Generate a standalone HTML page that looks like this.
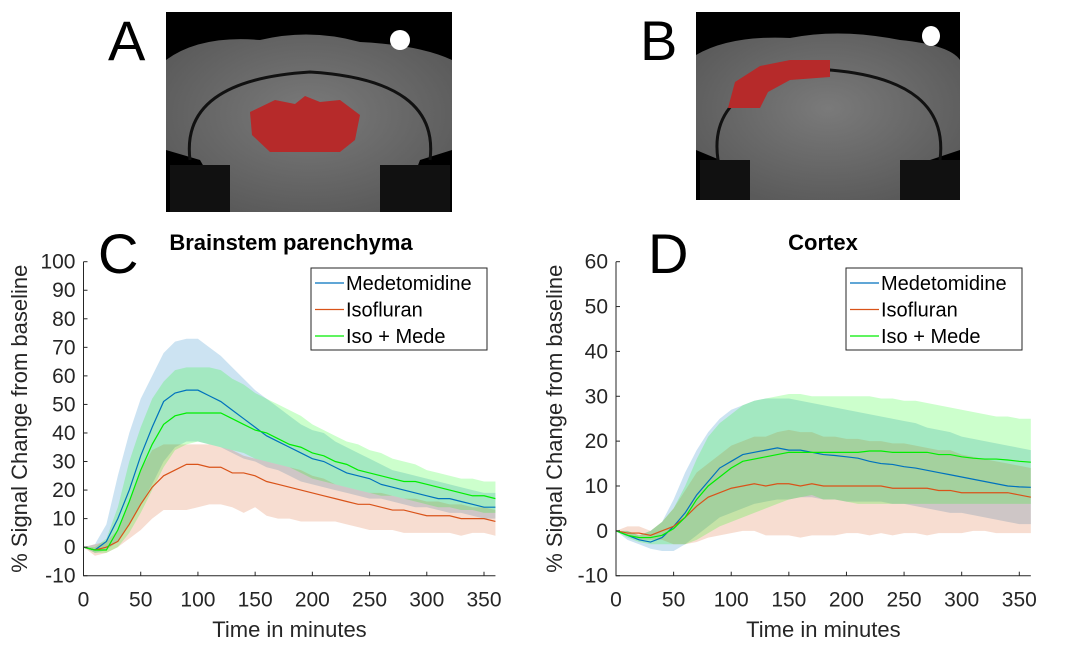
<!DOCTYPE html>
<html><head><meta charset="utf-8"><style>
body{margin:0;background:#fff;width:1080px;height:650px;overflow:hidden;font-family:"Liberation Sans",sans-serif}
svg text{font-family:"Liberation Sans",sans-serif}
</style></head><body>
<svg id="fig" width="1080" height="650">
<defs>
<radialGradient id="brain" cx="50%" cy="45%" r="60%"><stop offset="0" stop-color="#7a7a7a"/><stop offset="1" stop-color="#5a5a5a"/></radialGradient>
</defs>
<g>
<rect x="166" y="12" width="286" height="200" fill="#000"/>
<path d="M166 60 Q200 35 260 40 Q310 28 360 42 Q420 45 452 60 L452 150 L420 160 L400 212 L230 212 L200 160 L166 150 Z" fill="url(#brain)"/>
<path d="M190 160 Q180 80 310 72 Q440 80 430 160" fill="none" stroke="#111" stroke-width="3"/>
<ellipse cx="400" cy="40" rx="10" ry="10" fill="#fff"/>
<rect x="170" y="165" width="60" height="47" fill="#111"/><rect x="380" y="165" width="70" height="47" fill="#111"/>
<path d="M250 112 L275 100 L295 104 L305 96 L320 102 L340 100 L360 115 L355 140 L340 152 L270 152 L252 135 Z" fill="#b62a2a"/>
</g>
<text x="108" y="60" font-size="56">A</text>
<g>
<rect x="696" y="12" width="264" height="188" fill="#000"/>
<path d="M696 55 Q730 35 790 38 Q840 28 900 40 Q950 45 960 60 L960 150 L930 160 L910 200 L750 200 L720 160 L696 150 Z" fill="url(#brain)"/>
<path d="M718 160 Q706 80 830 70 Q950 80 940 160" fill="none" stroke="#111" stroke-width="3"/>
<ellipse cx="931" cy="36" rx="9" ry="10" fill="#fff"/>
<rect x="700" y="160" width="50" height="40" fill="#111"/><rect x="900" y="160" width="60" height="40" fill="#111"/>
<path d="M728 108 L735 82 L760 66 L790 60 L830 60 L830 77 L790 80 L768 92 L760 108 Z" fill="#b62a2a"/>
</g>
<text x="640" y="60" font-size="56">B</text>
<g id="chartC"></g>
<g id="chartD"></g>
</svg>
<script>
const xs=[0,10,20,30,40,50,60,70,80,90,100,110,120,130,140,150,160,170,180,190,200,210,220,230,240,250,260,270,280,290,300,310,320,330,340,350,360];
const cMed=[0,-1,2,10,20,32,42,51,54,55,55,53,51,48,45,42,39,37,35,33,31,30,28,26,25,24,22,21,20,19,18,17,17,16,15,14,14];
const cMedHi=[0,1,8,25,40,52,60,68,72,73,73,70,67,63,59,55,52,49,46,43,41,40,37,35,33,31,29,27,26,25,24,23,22,21,20,19,19];
const cMedLo=[0,-2,-1,2,8,15,22,30,35,37,37,36,35,33,31,30,28,27,25,23,22,21,20,19,18,17,17,16,15,14,14,13,12,12,11,10,10];
const cIso=[0,-1,0,2,8,15,21,25,27,29,29,28,28,26,26,25,23,22,21,20,19,18,17,16,15,15,14,13,13,12,11,11,11,10,10,10,9];
const cIsoHi=[0,1,2,6,16,27,34,36,36,36,36,36,35,34,32,31,30,29,28,27,25,24,22,21,20,19,19,18,17,17,16,16,15,15,14,14,13];
const cIsoLo=[0,-3,-2,0,3,6,10,13,13,13,14,15,15,14,12,14,11,10,10,9,9,9,9,8,7,6,6,6,5,5,5,5,5,4,5,5,4];
const cMix=[0,-1,-1,6,16,27,36,43,46,47,47,47,47,45,43,41,40,38,36,35,33,32,30,29,27,26,25,24,23,23,22,21,20,19,18,18,17];
const cMixHi=[0,0,3,14,30,42,52,58,62,63,63,63,62,59,57,54,52,50,48,46,43,41,39,37,36,34,33,31,30,29,27,26,25,24,24,23,23];
const cMixLo=[0,-2,-2,0,5,12,20,28,34,36,37,36,35,34,33,31,30,29,28,26,24,23,22,21,20,19,18,18,17,16,15,14,14,13,13,12,12];
const dMed=[0,-1,-2,-2.5,-1.5,1,4,8,11,14,15.5,17,17.5,18,18.5,18,18,17.5,17,16.8,16.5,16.2,15.5,15,14.8,14.3,14,13.5,13,12.5,12,11.5,11,10.5,10,9.8,9.7];
const dMedHi=[0,0,-1,0,2,7,13,18,22,25,27,28,29,29.5,29.5,29.5,29,28.5,28,27.5,27,26.5,26,25.5,25,24.5,24,23,22.5,22,21,20.5,20,19.5,19,18.5,18];
const dMedLo=[0,-2,-3,-4,-4.5,-4.5,-3,-1,1,3,4,5,6,6.5,7,7,7.5,7.5,7,7,6.5,6.5,6.5,6.5,6,6,5.5,5,4.5,4,4,3.5,3,2.5,2,1.5,1.5];
const dIso=[0,-0.5,-0.5,-1,0,1,3,5.5,7.5,8.5,9.5,10,10.5,10,10.5,10.5,10,10.5,10,10,10,10,10,10,9.5,9.5,9.5,9.5,9,9,8.5,8.5,8.5,8.5,8.5,8,7.5];
const dIsoHi=[0,1,1,0,2,5,9,13,15,17,19,20,21,21,22,22.5,22,22,21,21,20.5,20.5,20,20,19.5,19.5,19,18.5,18,18,17,16.5,16,15.5,15,14.5,14];
const dIsoLo=[0,-1,-2,-2,-2,-3,-3,-2.5,-1.5,-1,-0.5,0,0,-1,-1,-1,-1.5,-1,-1,-1,-0.5,-0.5,-1,-0.5,-1,-0.5,-0.5,-1,-0.5,-0.5,-0.5,0,0,-0.5,-0.5,-0.5,-0.5];
const dMix=[0,-1,-1.5,-1.5,-1,0.5,3,7,10,12,14,15.5,16,16.5,17,17.5,17.5,17.5,17.5,17.5,17.5,17.5,17.8,17.8,17.5,17.5,17.5,17.5,17,17,16.5,16.2,16,16,15.8,15.5,15.3];
const dMixHi=[0,0,-1,0,2,5,10,16,21,24,26,28,29,29.5,30,30.5,30.5,30,30,30,30,30,30,29.5,29.5,29,29,28.5,28,27.5,27,26.5,26,25.5,25.5,25,25];
const dMixLo=[0,-1.5,-2.5,-3,-3,-3,-3,-2,-0.5,1,2,3,4,5,6,7,7.5,8,7,7,6.5,6,6,6,6,6,6,6,6,6,6,6,6,6,6,6,6];
const xTicks=[0,50,100,150,200,250,300,350];
const cYTicks=[-10,0,10,20,30,40,50,60,70,80,90,100];
const dYTicks=[-10,0,10,20,30,40,50,60];
const seriesNames=["Medetomidine","Isofluran","Iso + Mede"];
const NS="http://www.w3.org/2000/svg";
const COLS=["#0072BD","#D95319","#00ee00"];
const FILLS=["rgba(0,114,189,0.2)","rgba(217,83,25,0.2)","rgba(0,255,0,0.2)"];
function mk(p,t,a){const e=document.createElementNS(NS,t);for(const k in a)e.setAttribute(k,a[k]);p.appendChild(e);return e;}
function chart(g,o){
  const X=v=>o.x0+v*(o.x350-o.x0)/350;
  const Y=v=>o.yB+(v-o.ymin)*(o.yT-o.yB)/(o.ymax-o.ymin);
  const bands=[[o.med,o.medHi,o.medLo],[o.iso,o.isoHi,o.isoLo],[o.mix,o.mixHi,o.mixLo]];
  const keys=["medetomidine","isofluran","iso-mede"];
  bands.forEach((b,i)=>{
    let d="M"+xs.map((x,j)=>X(x)+","+Y(b[1][j])).join("L")+"L"+xs.slice().reverse().map((x,j)=>X(x)+","+Y(b[2][xs.length-1-j])).join("L")+"Z";
    const p=mk(g,"path",{d:d,fill:FILLS[i]});
    
    
  });
  bands.forEach((b,i)=>{
    const p=mk(g,"polyline",{points:xs.map((x,j)=>X(x)+","+Y(b[0][j])).join(" "),fill:"none",stroke:COLS[i],"stroke-width":1.2});
    
    
  });
  const ax=mk(g,"path",{d:`M${o.x0},${o.yT} L${o.x0},${o.yB} L${X(360)},${o.yB}`,fill:"none",stroke:"#262626","stroke-width":1});
  
  
  xTicks.forEach(t=>{
    mk(g,"line",{x1:X(t),x2:X(t),y1:o.yB,y2:o.yB-4,stroke:"#262626"});
    const tx=mk(g,"text",{x:X(t),y:o.yB+31,"font-size":21,"text-anchor":"middle",fill:"#262626"});tx.textContent=t;
    
    
  });
  o.yt.forEach(t=>{
    mk(g,"line",{x1:o.x0,x2:o.x0+4,y1:Y(t),y2:Y(t),stroke:"#262626"});
    const tx=mk(g,"text",{x:o.x0-8,y:Y(t)+7,"font-size":21,"text-anchor":"end",fill:"#262626"});tx.textContent=t;
    
    
  });
  const xl=mk(g,"text",{x:(o.x0+X(360))/2,y:637,"font-size":22,"text-anchor":"middle",fill:"#262626"});xl.textContent="Time in minutes";
  
  
  const yl=mk(g,"text",{x:0,y:0,"font-size":22,"text-anchor":"middle",fill:"#262626",transform:`translate(${o.ylx},${(o.yT+o.yB)/2}) rotate(-90)`});yl.textContent="% Signal Change from baseline";
  
  
  const ti=mk(g,"text",{x:o.tx,y:250,"font-size":22,"font-weight":"bold","text-anchor":"middle"});ti.textContent=o.title;
  
  
  const lt=mk(g,"text",{x:o.lx,y:273,"font-size":56});lt.textContent=o.letter;
  
  
  const lg=mk(g,"g",{});
  
  
  mk(lg,"rect",{x:o.legX,y:268,width:176,height:82,fill:"#fff",stroke:"#262626"});
  seriesNames.forEach((n,i)=>{
    const yy=283+i*26.5;
    mk(lg,"line",{x1:o.legX+4,x2:o.legX+33,y1:yy,y2:yy,stroke:COLS[i],"stroke-width":1.2});
    const t=mk(lg,"text",{x:o.legX+35,y:yy+7,"font-size":20,fill:"#000"});t.textContent=n;
    
    
  });
}
chart(document.getElementById("chartC"),{x0:83.5,x350:484,yT:261.7,yB:575.7,ymin:-10,ymax:100,yt:cYTicks,
 med:cMed,medHi:cMedHi,medLo:cMedLo,iso:cIso,isoHi:cIsoHi,isoLo:cIsoLo,mix:cMix,mixHi:cMixHi,mixLo:cMixLo,
 ylx:27,tx:291,title:"Brainstem parenchyma",lx:98,letter:"C",legX:311});
chart(document.getElementById("chartD"),{x0:616,x350:1019.3,yT:261.7,yB:575.7,ymin:-10,ymax:60,yt:dYTicks,
 med:dMed,medHi:dMedHi,medLo:dMedLo,iso:dIso,isoHi:dIsoHi,isoLo:dIsoLo,mix:dMix,mixHi:dMixHi,mixLo:dMixLo,
 ylx:562,tx:823,title:"Cortex",lx:648,letter:"D",legX:846});
</script>
</body></html>
